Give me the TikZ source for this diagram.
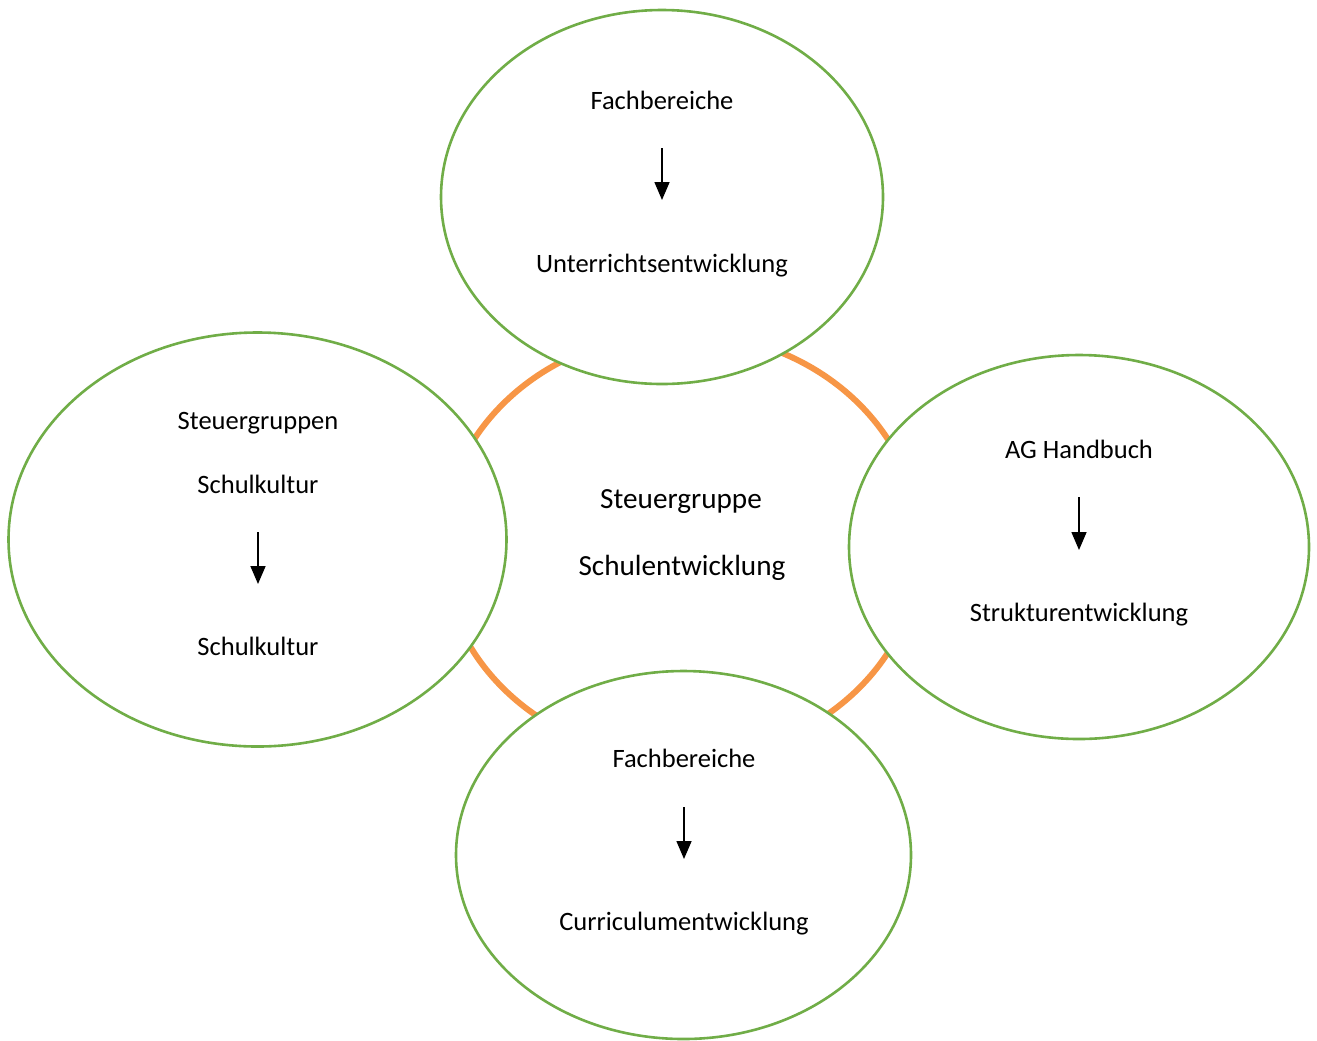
\documentclass[tikz,border=0pt]{standalone}
\usepackage{fontspec}
\setmainfont{Carlito}
\usetikzlibrary{shapes.geometric,arrows.meta}
\definecolor{ringgreen}{HTML}{70AD47}
\definecolor{ringorange}{HTML}{F79646}
\begin{document}
\begin{tikzpicture}[x=0.5pt,y=-0.5pt,
  bubble/.style={ellipse,draw=ringgreen,line width=1.3pt,fill=white,inner sep=0pt},
  core/.style={ellipse,draw=ringorange,line width=3pt,inner sep=0pt},
  lbl/.style={font=\fontsize{13.25pt}{15pt}\selectfont,inner sep=0pt,anchor=base},
  biglbl/.style={font=\fontsize{14.6pt}{17pt}\selectfont,inner sep=0pt,anchor=base},
  flow/.style={line width=0.8pt,-{Triangle[width=7.5pt,length=9pt]}}]
\useasboundingbox (0,0) rectangle (1317,1040);
\node[core,minimum width=239pt,minimum height=213pt] (center) at (681,546) {};
\node[bubble,minimum width=221pt,minimum height=187pt] (top) at (662,197) {};
\node[bubble,minimum width=249pt,minimum height=207pt] (left) at (257.5,539.5) {};
\node[bubble,minimum width=230pt,minimum height=192pt] (right) at (1079,547) {};
\node[bubble,minimum width=227.5pt,minimum height=184pt] (bottom) at (683.5,855) {};
% center text
\node[biglbl] (c1) at (681,508) {Steuergruppe};
\node[biglbl] (c2) at (682,575) {Schulentwicklung};
% top
\node[lbl] (t1) at (662,109) {Fachbereiche};
\node[lbl] (t2) at (662,272) {Unterrichtsentwicklung};
\coordinate (ta) at (662,148);
\coordinate (tb) at (662,200);
\draw[flow] (ta) -- (tb);
% left
\node[lbl] (l0) at (258,429) {Steuergruppen};
\node[lbl] (l1) at (258,493) {Schulkultur};
\node[lbl] (l2) at (258,655) {Schulkultur};
\coordinate (la) at (258,532);
\coordinate (lb) at (258,584);
\draw[flow] (la) -- (lb);
% right
\node[lbl] (r1) at (1079,458) {AG Handbuch};
\node[lbl] (r2) at (1079,621) {Strukturentwicklung};
\coordinate (ra) at (1079,497);
\coordinate (rb) at (1079,550);
\draw[flow] (ra) -- (rb);
% bottom
\node[lbl] (b1) at (684,767) {Fachbereiche};
\node[lbl] (b2) at (684,930) {Curriculumentwicklung};
\coordinate (ba) at (684,807);
\coordinate (bb) at (684,859);
\draw[flow] (ba) -- (bb);
\end{tikzpicture}
\end{document}
